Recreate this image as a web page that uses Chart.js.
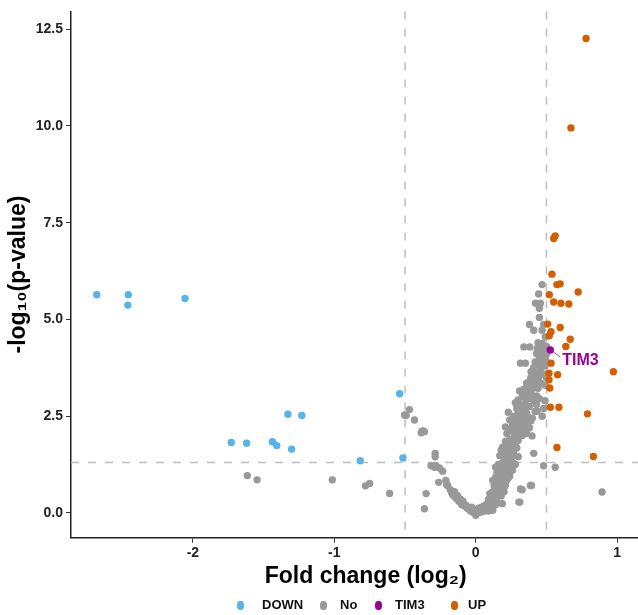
<!DOCTYPE html>
<html>
<head>
<meta charset="utf-8">
<title>Volcano plot</title>
<script src="https://cdn.jsdelivr.net/npm/chart.js@4.4.0/dist/chart.umd.min.js"></script>
<style>
  html, body { margin: 0; padding: 0; background: #fff; overflow: hidden; }
  #wrap { position: relative; width: 638px; height: 615px; overflow: hidden; }
  #volcano { position: absolute; left: 0; top: 0; }
  .legend { position: absolute; left: 0; top: 596px; width: 638px; height: 18px;
            font: bold 13px "Liberation Sans", Arial, sans-serif; color: #111; }
  .legend-item { position: absolute; top: 0; height: 18px; display: flex; align-items: center; white-space: nowrap; }
  .legend-dot { width: 7px; height: 9px; border-radius: 45%; }
  .legend-text { position: absolute; top: 1px; }
</style>
</head>
<body>
<div id="wrap">
  <canvas id="volcano" width="664" height="615"></canvas>
  <div class="legend" id="legend"></div>
</div>
<script>
// groups in legend order
const groups = ['DOWN', 'No', 'TIM3', 'UP'];

// [log2 fold change, -log10 p]
const downPoints = [
  [-2.68, 5.64], [-2.457, 5.64], [-2.46, 5.37], [-2.056, 5.54],
  [-1.729, 1.82], [-1.62, 1.80], [-1.438, 1.84], [-1.407, 1.74],
  [-1.328, 2.55], [-1.23, 2.52], [-1.302, 1.65], [-0.817, 1.35],
  [-0.538, 3.08], [-0.515, 1.42]
];

const noPoints = [
  // scattered on the left
  [-1.615, 0.965], [-1.546, 0.855], [-1.014, 0.855], [-0.78, 0.70], [-0.75, 0.76],
  [-0.609, 0.505], [-0.468, 2.67], [-0.492, 2.52], [-0.503, 2.53], [-0.433, 2.40],
  [-0.38, 2.11], [-0.37, 2.12], [-0.386, 2.07], [-0.363, 2.10],
  [-0.287, 1.54], [-0.287, 1.45], [-0.316, 1.22], [-0.281, 1.22], [-0.292, 1.18],
  [-0.257, 1.16], [-0.234, 1.08], [-0.262, 0.79], [-0.211, 0.84], [-0.206, 0.73],
  [-0.199, 0.71], [-0.351, 0.50], [-0.363, 0.11],
  // bottom of the V
  [-0.152, 0.50], [-0.129, 0.41], [-0.117, 0.33], [-0.093, 0.28], [-0.07, 0.20],
  [-0.046, 0.11], [-0.023, 0.03], [0.0, -0.06], [0.035, 0.03], [0.07, 0.11],
  [0.105, 0.20], [0.129, 0.33],
  [-0.04, 0.06], [-0.02, 0.02], [0.0, 0.0], [0.01, 0.04], [0.02, 0.01], [0.03, 0.07],
  [0.04, 0.03], [0.05, 0.10], [0.06, 0.05], [0.07, 0.14], [0.08, 0.09], [0.09, 0.17],
  [0.10, 0.12], [0.11, 0.22], [0.12, 0.16], [0.04, 0.15], [0.06, 0.19], [0.08, 0.24],
  [0.10, 0.28], [-0.01, 0.09], [0.02, 0.12], [0.13, 0.26], [0.14, 0.21], [-0.06, 0.12],
  [-0.08, 0.18], [-0.10, 0.22], [-0.12, 0.30], [-0.14, 0.38], [-0.16, 0.46], [-0.17, 0.52],
  [-0.13, 0.45], [-0.11, 0.36], [0.12, 0.07], [0.09, 0.05], [-0.03, 0.15], [-0.09, 0.30],
  [-0.15, 0.55], [-0.18, 0.60],
  // right arm
  [0.09, 0.35], [0.11, 0.40], [0.13, 0.46], [0.15, 0.50], [0.12, 0.55], [0.14, 0.62],
  [0.16, 0.58], [0.17, 0.68], [0.15, 0.74], [0.18, 0.78], [0.16, 0.85], [0.19, 0.90],
  [0.20, 0.96], [0.17, 0.99], [0.21, 0.72], [0.22, 0.86], [0.13, 0.70], [0.18, 0.44],
  [0.20, 0.55], [0.10, 0.50], [0.12, 0.84], [0.24, 0.95], [0.19, 0.62], [0.176, 0.84],
  [0.11, 0.30], [0.13, 0.36], [0.15, 0.42], [0.17, 0.55], [0.16, 0.66], [0.18, 0.70],
  [0.20, 0.80], [0.22, 0.94], [0.14, 0.92], [0.23, 0.90], [0.20, 0.66], [0.15, 0.28],
  [0.15, 1.05], [0.18, 1.10], [0.20, 1.14], [0.22, 1.08], [0.24, 1.20], [0.16, 1.25],
  [0.19, 1.30], [0.21, 1.36], [0.23, 1.42], [0.26, 1.30], [0.17, 1.48], [0.20, 1.52],
  [0.22, 1.58], [0.25, 1.60], [0.27, 1.50], [0.29, 1.68], [0.19, 1.70], [0.23, 1.75],
  [0.26, 1.78], [0.30, 1.45], [0.28, 1.25], [0.14, 1.18], [0.18, 1.62], [0.2, 1.18],
  [0.223, 1.78], [0.41, 1.54], [0.17, 1.02], [0.19, 1.04], [0.21, 1.22], [0.23, 1.28],
  [0.25, 1.40], [0.21, 1.45], [0.24, 1.52], [0.27, 1.62], [0.28, 1.72], [0.22, 1.66],
  [0.26, 1.10],
  [0.21, 1.85], [0.24, 1.90], [0.27, 1.95], [0.30, 1.88], [0.33, 2.00], [0.22, 2.05],
  [0.25, 2.12], [0.28, 2.18], [0.31, 2.10], [0.34, 2.22], [0.26, 2.30], [0.29, 2.36],
  [0.32, 2.42], [0.35, 2.35], [0.37, 2.48], [0.27, 2.50], [0.30, 2.56], [0.33, 2.60],
  [0.36, 2.58], [0.40, 2.45], [0.24, 2.40], [0.38, 2.20], [0.21, 2.22], [0.23, 2.60],
  [0.398, 1.99], [0.434, 2.63], [0.34, 2.71], [0.25, 1.84], [0.28, 2.02], [0.30, 2.25],
  [0.32, 2.30], [0.26, 2.22], [0.28, 2.44], [0.31, 2.64], [0.34, 2.50], [0.29, 1.92],
  [0.33, 2.12], [0.36, 2.05], [0.39, 2.38], [0.42, 2.62],
  [0.29, 2.70], [0.32, 2.78], [0.35, 2.84], [0.38, 2.75], [0.41, 2.90], [0.30, 2.92],
  [0.33, 3.00], [0.36, 3.06], [0.39, 3.10], [0.43, 3.02], [0.34, 3.20], [0.37, 3.26],
  [0.40, 3.30], [0.44, 3.22], [0.46, 3.36], [0.38, 3.40], [0.42, 3.44], [0.31, 3.15],
  [0.28, 2.85], [0.45, 2.95], [0.335, 3.04], [0.375, 3.19], [0.41, 3.23], [0.35, 2.68],
  [0.37, 2.95], [0.40, 3.00], [0.43, 2.80], [0.36, 3.35],
  [0.40, 3.55], [0.43, 3.60], [0.46, 3.70], [0.48, 3.58], [0.41, 3.76], [0.44, 3.82],
  [0.47, 3.90], [0.49, 3.80], [0.45, 4.00], [0.48, 4.05], [0.43, 4.12], [0.46, 4.20],
  [0.49, 4.18], [0.47, 4.38], [0.50, 4.30], [0.391, 3.65], [0.422, 3.61], [0.39, 3.50],
  [0.42, 3.30], [0.44, 3.48], [0.42, 3.90], [0.45, 3.55], [0.47, 4.08], [0.44, 4.40],
  [0.316, 3.87], [0.351, 3.87], [0.34, 4.29], [0.382, 4.29], [0.434, 4.25],
  [0.49, 3.30], [0.50, 3.50], [0.495, 3.95], [0.50, 4.10], [0.49, 2.90], [0.48, 2.70], [0.47, 2.50],
  // top of the column
  [0.469, 5.90], [0.445, 5.66], [0.422, 5.42], [0.457, 5.42], [0.45, 5.29], [0.45, 5.05],
  [0.38, 4.87], [0.41, 4.72], [0.469, 4.72], [0.48, 4.87], [0.492, 4.55],
  // outliers on the right
  [0.188, 0.24], [0.312, 0.28], [0.305, 0.28], [0.394, 0.71], [0.387, 0.71], [0.328, 0.60],
  [0.316, 0.62], [0.48, 1.22], [0.562, 1.18], [0.893, 0.54]
];

const tim3Points = [[0.527, 4.21]];

const upPoints = [
  [0.78, 12.26], [0.673, 9.95], [0.562, 7.16], [0.551, 7.09], [0.539, 6.17],
  [0.574, 5.90], [0.597, 5.92], [0.724, 5.71], [0.52, 5.64], [0.551, 5.45],
  [0.602, 5.42], [0.658, 5.40], [0.509, 4.88], [0.597, 4.79], [0.532, 4.68],
  [0.52, 4.58], [0.668, 4.49], [0.637, 4.30], [0.532, 3.87], [0.518, 3.61],
  [0.579, 3.57], [0.973, 3.65], [0.518, 3.44], [0.523, 3.23], [0.527, 2.73],
  [0.588, 2.73], [0.79, 2.56], [0.574, 1.69], [0.832, 1.46]
];

const xTicks = [-2, -1, 0, 1];
const yTicks = [0, 2.5, 5, 7.5, 10, 12.5];

// cutoffs for the dashed lines
const fcCutoffs = [-0.5, 0.5];
const pCutoff = 1.301;

const groupPoints = [downPoints, noPoints, tim3Points, upPoints];
const groupColors = ['#56B4E9', '#999999', '#990099', '#D55E00'];
const drawOrder = [2, 4, 1, 3]; // grey goes underneath

const FONT = '"Liberation Sans", Arial, sans-serif';

// dashed threshold lines, under the points
const refLines = {
  id: 'refLines',
  beforeDatasetsDraw(chart) {
    const { ctx, chartArea: a, scales: { x, y } } = chart;
    ctx.save();
    ctx.strokeStyle = '#BEBEBE';
    ctx.lineWidth = 1.5;
    ctx.setLineDash([8, 9]);
    fcCutoffs.forEach(v => {
      const px = x.getPixelForValue(v);
      ctx.beginPath();
      ctx.moveTo(px, a.top);
      ctx.lineTo(px, a.bottom);
      ctx.stroke();
    });
    const py = y.getPixelForValue(pCutoff);
    ctx.beginPath();
    ctx.moveTo(a.left, py);
    ctx.lineTo(a.right, py);
    ctx.stroke();
    ctx.restore();
  }
};

// TIM3 label with a short leader line
const tim3Label = {
  id: 'tim3Label',
  afterDatasetsDraw(chart) {
    const idx = groups.indexOf('TIM3');
    const pt = chart.getDatasetMeta(idx).data[0];
    if (!pt) return;
    const { ctx } = chart;
    ctx.save();
    ctx.strokeStyle = groupColors[idx];
    ctx.lineWidth = 0.8;
    ctx.beginPath();
    ctx.moveTo(pt.x + 3, pt.y + 2);
    ctx.lineTo(pt.x + 10, pt.y + 7);
    ctx.stroke();
    ctx.fillStyle = groupColors[idx];
    ctx.font = 'bold 16px ' + FONT;
    ctx.textBaseline = 'middle';
    ctx.fillText('TIM3', pt.x + 12, pt.y + 11);
    ctx.restore();
  }
};

document.addEventListener('DOMContentLoaded', () => {

    const datasets = groups.map((g, i) => ({
        label: g,
        data: groupPoints[i].map(p => ({ x: p[0], y: p[1] })),
        backgroundColor: groupColors[i],
        borderWidth: 0,
        pointRadius: 3.7,
        pointHoverRadius: 3.7,
        order: drawOrder[i]
    }));

    const axisFont = { family: FONT, size: 14, weight: 'bold' };
    const titleFont = { family: FONT, size: 23, weight: 'bold' };

    new Chart(document.getElementById('volcano'), {
        type: 'scatter',
        data: { datasets },
        options: {
            responsive: false,
            animation: false,
            devicePixelRatio: 1,
            layout: { padding: { top: 6.7, left: 0, right: 0, bottom: 0 } },
            plugins: {
                legend: { display: false },
                tooltip: { enabled: false }
            },
            scales: {
                x: {
                    type: 'linear',
                    min: -2.862,
                    max: 1.305,
                    afterBuildTicks: s => { s.ticks = xTicks.map(v => ({ value: v })); },
                    afterFit: s => { s.height = 77.3; },
                    ticks: { font: axisFont, color: '#222', padding: 2, callback: v => String(v) },
                    grid: { drawOnChartArea: false, tickLength: 5, color: '#333', lineWidth: 1 },
                    border: { display: true, color: '#222', width: 1.5 },
                    title: {
                        display: true,
                        text: 'Fold change (log₂)',
                        font: titleFont,
                        color: '#000',
                        padding: { top: 0, bottom: 25 }
                    }
                },
                y: {
                    type: 'linear',
                    min: -0.64,
                    max: 12.96,
                    afterBuildTicks: s => { s.ticks = yTicks.map(v => ({ value: v })); },
                    afterFit: s => { s.width = 71; },
                    ticks: { font: axisFont, color: '#222', padding: 3, callback: v => v.toFixed(1) },
                    grid: { drawOnChartArea: false, tickLength: 5, color: '#333', lineWidth: 1 },
                    border: { display: true, color: '#222', width: 1.5 },
                    title: {
                        display: true,
                        text: '-log₁₀(p-value)',
                        font: titleFont,
                        color: '#000',
                        padding: { top: 5, bottom: 0 }
                    }
                }
            }
        },
        plugins: [refLines, tim3Label]
    });

    // legend row under the axis title
    const legendDotX = [240, 323, 378, 454];
    const legendTextX = [262, 340, 395, 468];
    const legend = document.getElementById('legend');
    groups.forEach((g, i) => {
        const dot = document.createElement('div');
        dot.className = 'legend-item';
        dot.style.left = (legendDotX[i] - 3.5) + 'px';
        dot.innerHTML = '<span class="legend-dot" style="background:' + groupColors[i] + '"></span>';
        legend.appendChild(dot);

        const txt = document.createElement('span');
        txt.className = 'legend-text';
        txt.style.left = legendTextX[i] + 'px';
        txt.textContent = g;
        legend.appendChild(txt);
    });
});
</script>
</body>
</html>
